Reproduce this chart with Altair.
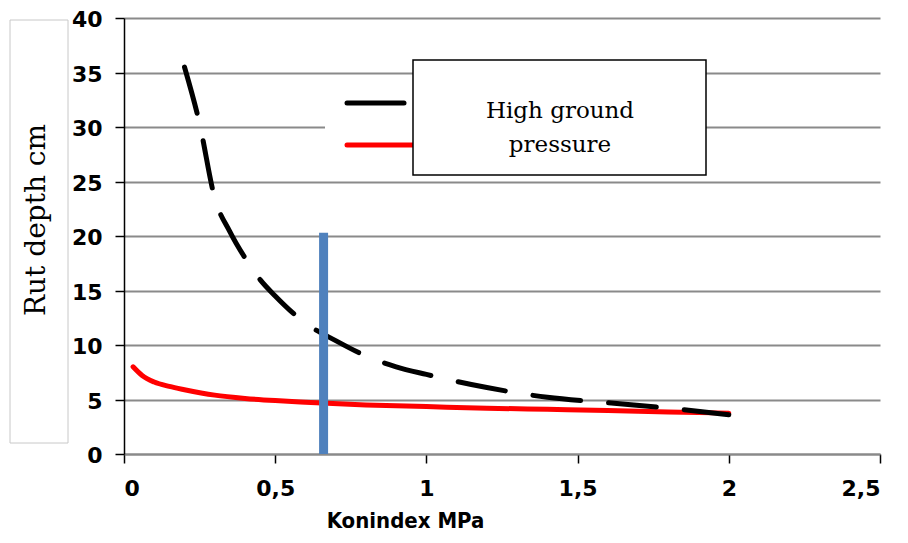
import altair as alt
import pandas as pd

# Black dashed series (high ground pressure)
black_x = [0.2, 0.25, 0.3, 0.35, 0.4, 0.45, 0.5, 0.6, 0.7, 0.8, 0.9, 1.0, 1.2, 1.4, 1.6, 1.8, 2.0]
black_y = [35.5, 30.3, 23.5, 20.4, 18.0, 16.0, 14.5, 12.0, 10.4, 9.0, 8.0, 7.3, 6.1, 5.2, 4.7, 4.2, 3.6]

# Red solid series
red_x = [0.03, 0.06, 0.1, 0.15, 0.2, 0.3, 0.4, 0.5, 0.6, 0.8, 1.0, 1.2, 1.4, 1.6, 1.8, 2.0]
red_y = [8.0, 7.2, 6.6, 6.2, 5.9, 5.4, 5.1, 4.9, 4.75, 4.5, 4.35, 4.2, 4.1, 4.0, 3.85, 3.75]

# Blue marker bar
bar_x = [0.66]
bar_top = [20.3]

x_ticks = [0, 0.5, 1, 1.5, 2, 2.5]
y_ticks = [0, 5, 10, 15, 20, 25, 30, 35, 40]

W, H = 756, 436
LABEL_FONT = "DejaVu Sans"
TITLE_FONT = "DejaVu Sans Condensed, DejaVu Sans"
SERIF = "DejaVu Serif"

xscale = alt.Scale(domain=[0, 2.5], nice=False)
yscale = alt.Scale(domain=[0, 40], nice=False)

xaxis = alt.Axis(values=x_ticks,
                 labelExpr="replace(format(datum.value, '~g'), '.', ',')",
                 grid=False, domainColor="#8a8a8a", domainWidth=2,
                 tickColor="black", tickSize=9, tickWidth=1.5,
                 labelFont=LABEL_FONT, labelFontSize=22, labelFontWeight="bold",
                 labelColor="black", labelPadding=15,
                 title="Konindex MPa", titleFont=TITLE_FONT, titleFontSize=22,
                 titleFontWeight="bold", titleColor="black", titleX=281, titleY=73,
                 titleBaseline="alphabetic", titleAlign="center", titleAnchor="start")
yaxis = alt.Axis(values=y_ticks, grid=True, gridColor="#8a8a8a", gridWidth=2,
                 domainColor="black", domainWidth=1.5,
                 tickColor="black", tickSize=9, tickWidth=1.5,
                 labelFont=LABEL_FONT, labelFontSize=22, labelFontWeight="bold",
                 labelColor="black", labelPadding=13, labelOffset=1.5, title=None)

black_df = pd.DataFrame({"x": black_x, "y": black_y})
red_df = pd.DataFrame({"x": red_x, "y": red_y})
bar_df = pd.DataFrame({"x": bar_x, "y": bar_top})
one = pd.DataFrame({"a": [0]})

base_axes = alt.Chart(red_df).mark_line(color="red", strokeWidth=5, strokeCap="round",
                                        interpolate="monotone").encode(
    x=alt.X("x:Q", scale=xscale, axis=xaxis),
    y=alt.Y("y:Q", scale=yscale, axis=yaxis),
)

black_line = alt.Chart(black_df).mark_line(color="black", strokeWidth=5, strokeCap="round",
                                           strokeDash=[48, 28], interpolate="monotone").encode(
    x=alt.X("x:Q", scale=xscale), y=alt.Y("y:Q", scale=yscale))

blue_bar = alt.Chart(bar_df).mark_rule(color="#4F81BD", strokeWidth=9).encode(
    x=alt.X("x:Q", scale=xscale), y=alt.Y("y:Q", scale=yscale), y2=alt.datum(0))

# Legend area (white background with line keys)
legend_bg = alt.Chart(one).mark_rect(fill="white").encode(
    x=alt.value(201), x2=alt.value(289), y=alt.value(62), y2=alt.value(158))
key_black = alt.Chart(one).mark_rule(color="black", strokeWidth=5, strokeCap="round").encode(
    x=alt.value(223), x2=alt.value(280), y=alt.value(85))
key_red = alt.Chart(one).mark_rule(color="red", strokeWidth=5, strokeCap="round").encode(
    x=alt.value(223), x2=alt.value(290), y=alt.value(127))
box = alt.Chart(one).mark_rect(fill="white", stroke="black", strokeWidth=1.5).encode(
    x=alt.value(289), x2=alt.value(582), y=alt.value(42), y2=alt.value(157))
box_text = alt.Chart(one).mark_text(font=SERIF, fontSize=23, color="black",
                                    align="center", baseline="middle", lineHeight=34).encode(
    x=alt.value(436), y=alt.value(93), text=alt.value(["High ground", "pressure"]))

# Y title box
ybox = alt.Chart(one).mark_rect(fill="white", stroke="#c8c8c8", strokeWidth=1).encode(
    x=alt.value(-114), x2=alt.value(-56), y=alt.value(2), y2=alt.value(425))
ytitle = alt.Chart(one).mark_text(font=SERIF, fontSize=28, color="black", angle=270,
                                  align="center", baseline="middle").encode(
    x=alt.value(-87), y=alt.value(202), text=alt.value("Rut depth cm"))

chart = alt.layer(base_axes, legend_bg, key_black, key_red, black_line, blue_bar,
                  box, box_text, ybox, ytitle).properties(
    width=W, height=H,
    padding={"left": 116, "top": 10, "right": 20, "bottom": 80},
    autosize=alt.AutoSizeParams(type="none"),
    background="white",
).configure_view(strokeWidth=0)

chart.save("out.html", embed_options={"renderer": "svg", "actions": False})
